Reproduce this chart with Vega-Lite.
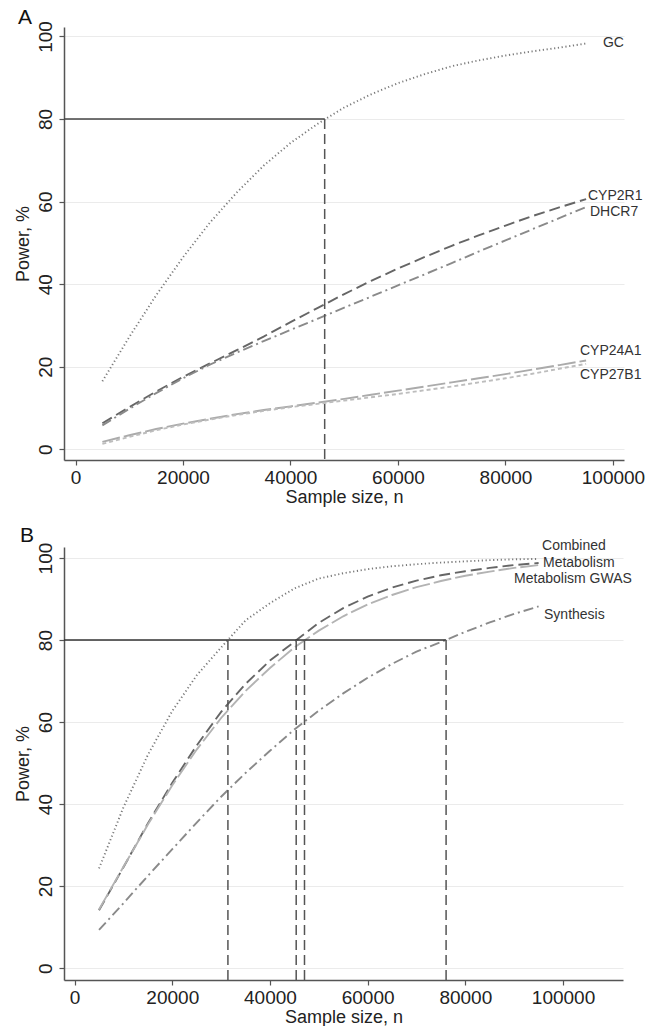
{
  "$schema": "https://vega.github.io/schema/vega-lite/v6.json",
  "background": "white",
  "padding": {"left": 14, "top": 6, "right": 0, "bottom": 0},
  "spacing": 19,
  "config": {
    "view": {"stroke": null},
    "font": "Liberation Sans",
    "axis": {
      "domainColor": "#555555",
      "domainWidth": 1.5,
      "tickColor": "#555555",
      "tickSize": 5,
      "tickWidth": 1.2,
      "labelFont": "Liberation Sans",
      "labelFontSize": 19,
      "labelColor": "#222222",
      "titleFont": "Liberation Sans",
      "titleFontSize": 18,
      "titleFontWeight": "normal",
      "titleColor": "#222222",
      "gridColor": "#ebebeb",
      "gridWidth": 1
    },
    "axisX": {"grid": false, "labelPadding": 3, "titlePadding": 1},
    "axisY": {"grid": true, "labelAngle": -90, "labelAlign": "center", "labelBaseline": "alphabetic", "labelPadding": 8, "titlePadding": 4}
  },
  "datasets": {
    "curves": [
      {"panel":"A","series":"GC","n":5000,"power":16.5},{"panel":"A","series":"GC","n":10000,"power":27.2},{"panel":"A","series":"GC","n":15000,"power":37.3},{"panel":"A","series":"GC","n":20000,"power":46.5},{"panel":"A","series":"GC","n":25000,"power":54.9},{"panel":"A","series":"GC","n":30000,"power":62.2},{"panel":"A","series":"GC","n":35000,"power":68.7},{"panel":"A","series":"GC","n":40000,"power":74.2},{"panel":"A","series":"GC","n":45000,"power":78.8},{"panel":"A","series":"GC","n":50000,"power":82.8},{"panel":"A","series":"GC","n":55000,"power":86.0},{"panel":"A","series":"GC","n":60000,"power":88.7},{"panel":"A","series":"GC","n":65000,"power":90.9},{"panel":"A","series":"GC","n":70000,"power":92.8},{"panel":"A","series":"GC","n":75000,"power":94.2},{"panel":"A","series":"GC","n":80000,"power":95.4},{"panel":"A","series":"GC","n":85000,"power":96.4},{"panel":"A","series":"GC","n":90000,"power":97.3},{"panel":"A","series":"GC","n":95000,"power":98.3},
      {"panel":"A","series":"CYP2R1","n":5000,"power":6.3},{"panel":"A","series":"CYP2R1","n":10000,"power":10.2},{"panel":"A","series":"CYP2R1","n":15000,"power":14.0},{"panel":"A","series":"CYP2R1","n":20000,"power":17.5},{"panel":"A","series":"CYP2R1","n":25000,"power":20.8},{"panel":"A","series":"CYP2R1","n":30000,"power":24.0},{"panel":"A","series":"CYP2R1","n":35000,"power":27.3},{"panel":"A","series":"CYP2R1","n":40000,"power":30.8},{"panel":"A","series":"CYP2R1","n":45000,"power":34.2},{"panel":"A","series":"CYP2R1","n":50000,"power":37.6},{"panel":"A","series":"CYP2R1","n":55000,"power":40.8},{"panel":"A","series":"CYP2R1","n":60000,"power":43.8},{"panel":"A","series":"CYP2R1","n":65000,"power":46.6},{"panel":"A","series":"CYP2R1","n":70000,"power":49.3},{"panel":"A","series":"CYP2R1","n":75000,"power":51.8},{"panel":"A","series":"CYP2R1","n":80000,"power":54.2},{"panel":"A","series":"CYP2R1","n":85000,"power":56.5},{"panel":"A","series":"CYP2R1","n":90000,"power":58.6},{"panel":"A","series":"CYP2R1","n":95000,"power":60.6},
      {"panel":"A","series":"DHCR7","n":5000,"power":5.8},{"panel":"A","series":"DHCR7","n":10000,"power":9.8},{"panel":"A","series":"DHCR7","n":15000,"power":13.6},{"panel":"A","series":"DHCR7","n":20000,"power":17.2},{"panel":"A","series":"DHCR7","n":25000,"power":20.5},{"panel":"A","series":"DHCR7","n":30000,"power":23.4},{"panel":"A","series":"DHCR7","n":35000,"power":26.2},{"panel":"A","series":"DHCR7","n":40000,"power":28.9},{"panel":"A","series":"DHCR7","n":45000,"power":31.6},{"panel":"A","series":"DHCR7","n":50000,"power":34.3},{"panel":"A","series":"DHCR7","n":55000,"power":37.0},{"panel":"A","series":"DHCR7","n":60000,"power":39.7},{"panel":"A","series":"DHCR7","n":65000,"power":42.4},{"panel":"A","series":"DHCR7","n":70000,"power":45.1},{"panel":"A","series":"DHCR7","n":75000,"power":47.9},{"panel":"A","series":"DHCR7","n":80000,"power":50.6},{"panel":"A","series":"DHCR7","n":85000,"power":53.3},{"panel":"A","series":"DHCR7","n":90000,"power":56.0},{"panel":"A","series":"DHCR7","n":95000,"power":58.7},
      {"panel":"A","series":"CYP24A1","n":5000,"power":1.8},{"panel":"A","series":"CYP24A1","n":10000,"power":3.4},{"panel":"A","series":"CYP24A1","n":15000,"power":4.9},{"panel":"A","series":"CYP24A1","n":20000,"power":6.2},{"panel":"A","series":"CYP24A1","n":25000,"power":7.4},{"panel":"A","series":"CYP24A1","n":30000,"power":8.5},{"panel":"A","series":"CYP24A1","n":35000,"power":9.5},{"panel":"A","series":"CYP24A1","n":40000,"power":10.4},{"panel":"A","series":"CYP24A1","n":45000,"power":11.3},{"panel":"A","series":"CYP24A1","n":50000,"power":12.2},{"panel":"A","series":"CYP24A1","n":55000,"power":13.2},{"panel":"A","series":"CYP24A1","n":60000,"power":14.2},{"panel":"A","series":"CYP24A1","n":65000,"power":15.2},{"panel":"A","series":"CYP24A1","n":70000,"power":16.2},{"panel":"A","series":"CYP24A1","n":75000,"power":17.2},{"panel":"A","series":"CYP24A1","n":80000,"power":18.2},{"panel":"A","series":"CYP24A1","n":85000,"power":19.3},{"panel":"A","series":"CYP24A1","n":90000,"power":20.4},{"panel":"A","series":"CYP24A1","n":95000,"power":21.5},
      {"panel":"A","series":"CYP27B1","n":5000,"power":1.3},{"panel":"A","series":"CYP27B1","n":10000,"power":3.0},{"panel":"A","series":"CYP27B1","n":15000,"power":4.6},{"panel":"A","series":"CYP27B1","n":20000,"power":6.0},{"panel":"A","series":"CYP27B1","n":25000,"power":7.2},{"panel":"A","series":"CYP27B1","n":30000,"power":8.3},{"panel":"A","series":"CYP27B1","n":35000,"power":9.3},{"panel":"A","series":"CYP27B1","n":40000,"power":10.2},{"panel":"A","series":"CYP27B1","n":45000,"power":11.0},{"panel":"A","series":"CYP27B1","n":50000,"power":11.8},{"panel":"A","series":"CYP27B1","n":55000,"power":12.6},{"panel":"A","series":"CYP27B1","n":60000,"power":13.4},{"panel":"A","series":"CYP27B1","n":65000,"power":14.3},{"panel":"A","series":"CYP27B1","n":70000,"power":15.2},{"panel":"A","series":"CYP27B1","n":75000,"power":16.2},{"panel":"A","series":"CYP27B1","n":80000,"power":17.2},{"panel":"A","series":"CYP27B1","n":85000,"power":18.3},{"panel":"A","series":"CYP27B1","n":90000,"power":19.5},{"panel":"A","series":"CYP27B1","n":95000,"power":20.7},
      {"panel":"B","series":"Combined","n":5000,"power":24.3},{"panel":"B","series":"Combined","n":10000,"power":39.2},{"panel":"B","series":"Combined","n":15000,"power":52.0},{"panel":"B","series":"Combined","n":20000,"power":62.7},{"panel":"B","series":"Combined","n":25000,"power":71.4},{"panel":"B","series":"Combined","n":30000,"power":78.2},{"panel":"B","series":"Combined","n":35000,"power":84.8},{"panel":"B","series":"Combined","n":40000,"power":89.0},{"panel":"B","series":"Combined","n":45000,"power":92.6},{"panel":"B","series":"Combined","n":50000,"power":95.0},{"panel":"B","series":"Combined","n":55000,"power":96.3},{"panel":"B","series":"Combined","n":60000,"power":97.3},{"panel":"B","series":"Combined","n":65000,"power":98.0},{"panel":"B","series":"Combined","n":70000,"power":98.5},{"panel":"B","series":"Combined","n":75000,"power":98.9},{"panel":"B","series":"Combined","n":80000,"power":99.2},{"panel":"B","series":"Combined","n":85000,"power":99.5},{"panel":"B","series":"Combined","n":90000,"power":99.7},{"panel":"B","series":"Combined","n":95000,"power":99.8},
      {"panel":"B","series":"Metabolism","n":5000,"power":14.1},{"panel":"B","series":"Metabolism","n":10000,"power":24.6},{"panel":"B","series":"Metabolism","n":15000,"power":35.3},{"panel":"B","series":"Metabolism","n":20000,"power":45.2},{"panel":"B","series":"Metabolism","n":25000,"power":54.3},{"panel":"B","series":"Metabolism","n":30000,"power":62.5},{"panel":"B","series":"Metabolism","n":35000,"power":69.3},{"panel":"B","series":"Metabolism","n":40000,"power":75.0},{"panel":"B","series":"Metabolism","n":45000,"power":79.6},{"panel":"B","series":"Metabolism","n":50000,"power":84.2},{"panel":"B","series":"Metabolism","n":55000,"power":87.8},{"panel":"B","series":"Metabolism","n":60000,"power":90.6},{"panel":"B","series":"Metabolism","n":65000,"power":92.8},{"panel":"B","series":"Metabolism","n":70000,"power":94.5},{"panel":"B","series":"Metabolism","n":75000,"power":95.8},{"panel":"B","series":"Metabolism","n":80000,"power":96.8},{"panel":"B","series":"Metabolism","n":85000,"power":97.6},{"panel":"B","series":"Metabolism","n":90000,"power":98.3},{"panel":"B","series":"Metabolism","n":95000,"power":98.8},
      {"panel":"B","series":"Metabolism GWAS","n":5000,"power":14.3},{"panel":"B","series":"Metabolism GWAS","n":10000,"power":24.7},{"panel":"B","series":"Metabolism GWAS","n":15000,"power":35.0},{"panel":"B","series":"Metabolism GWAS","n":20000,"power":44.6},{"panel":"B","series":"Metabolism GWAS","n":25000,"power":53.3},{"panel":"B","series":"Metabolism GWAS","n":30000,"power":61.0},{"panel":"B","series":"Metabolism GWAS","n":35000,"power":67.6},{"panel":"B","series":"Metabolism GWAS","n":40000,"power":73.2},{"panel":"B","series":"Metabolism GWAS","n":45000,"power":78.2},{"panel":"B","series":"Metabolism GWAS","n":50000,"power":82.3},{"panel":"B","series":"Metabolism GWAS","n":55000,"power":85.8},{"panel":"B","series":"Metabolism GWAS","n":60000,"power":88.7},{"panel":"B","series":"Metabolism GWAS","n":65000,"power":91.0},{"panel":"B","series":"Metabolism GWAS","n":70000,"power":92.9},{"panel":"B","series":"Metabolism GWAS","n":75000,"power":94.4},{"panel":"B","series":"Metabolism GWAS","n":80000,"power":95.7},{"panel":"B","series":"Metabolism GWAS","n":85000,"power":96.7},{"panel":"B","series":"Metabolism GWAS","n":90000,"power":97.6},{"panel":"B","series":"Metabolism GWAS","n":95000,"power":98.3},
      {"panel":"B","series":"Synthesis","n":5000,"power":9.3},{"panel":"B","series":"Synthesis","n":10000,"power":15.8},{"panel":"B","series":"Synthesis","n":15000,"power":22.5},{"panel":"B","series":"Synthesis","n":20000,"power":29.0},{"panel":"B","series":"Synthesis","n":25000,"power":35.5},{"panel":"B","series":"Synthesis","n":30000,"power":41.8},{"panel":"B","series":"Synthesis","n":35000,"power":47.6},{"panel":"B","series":"Synthesis","n":40000,"power":53.0},{"panel":"B","series":"Synthesis","n":45000,"power":58.2},{"panel":"B","series":"Synthesis","n":50000,"power":62.8},{"panel":"B","series":"Synthesis","n":55000,"power":67.0},{"panel":"B","series":"Synthesis","n":60000,"power":70.8},{"panel":"B","series":"Synthesis","n":65000,"power":74.2},{"panel":"B","series":"Synthesis","n":70000,"power":77.2},{"panel":"B","series":"Synthesis","n":75000,"power":79.5},{"panel":"B","series":"Synthesis","n":80000,"power":82.0},{"panel":"B","series":"Synthesis","n":85000,"power":84.3},{"panel":"B","series":"Synthesis","n":90000,"power":86.4},{"panel":"B","series":"Synthesis","n":95000,"power":88.2}
    ],
    "labels": [
      {"panel":"A","label":"GC","n":98140,"power":98.4},
      {"panel":"A","label":"CYP2R1","n":95350,"power":61.3},
      {"panel":"A","label":"DHCR7","n":95720,"power":57.5},
      {"panel":"A","label":"CYP24A1","n":93860,"power":23.8},
      {"panel":"A","label":"CYP27B1","n":93860,"power":18.0},
      {"panel":"B","label":"Combined","n":95700,"power":102.9},
      {"panel":"B","label":"Metabolism","n":95900,"power":98.9},
      {"panel":"B","label":"Metabolism GWAS","n":89980,"power":95.0},
      {"panel":"B","label":"Synthesis","n":96110,"power":86.0}
    ],
    "hline": [
      {"panel":"A","n":-2140,"n2":46360,"power":80},
      {"panel":"B","n":-2170,"n2":76060,"power":80}
    ],
    "cross": [
      {"panel":"A","n":46360,"power":80,"power2":-2.6},
      {"panel":"B","n":31390,"power":80,"power2":-2.9},
      {"panel":"B","n":45370,"power":80,"power2":-2.9},
      {"panel":"B","n":47070,"power":80,"power2":-2.9},
      {"panel":"B","n":76060,"power":80,"power2":-2.9}
    ]
  },
  "vconcat": [
    {
      "title": {"text": "A", "anchor": "start", "frame": "bounds", "fontSize": 21, "fontWeight": "normal", "baseline": "alphabetic", "offset": -24, "dx": 4, "color": "#111111"},
      "width": 560,
      "height": 433,
      "layer": [
        {
          "data": {"name": "curves"},
          "transform": [{"filter": "datum.panel === 'A'"}],
          "mark": {"type": "line", "strokeWidth": 1.9, "strokeCap": "butt"},
          "encoding": {
            "x": {"field": "n", "type": "quantitative", "scale": {"domain": [-2140, 102050], "nice": false, "zero": false}, "axis": {"values": [0, 20000, 40000, 60000, 80000, 100000], "format": "d", "title": "Sample size, n"}},
            "y": {"field": "power", "type": "quantitative", "scale": {"domain": [-2.6, 102.3], "nice": false, "zero": false}, "axis": {"values": [0, 20, 40, 60, 80, 100], "title": "Power, %"}},
            "color": {"field": "series", "type": "nominal", "legend": null, "scale": {"domain": ["GC","CYP2R1","DHCR7","CYP24A1","CYP27B1","Combined","Metabolism","Metabolism GWAS","Synthesis"], "range": ["#7a7a7a","#666666","#8a8a8a","#ababab","#bdbdbd","#7a7a7a","#666666","#b3b3b3","#8a8a8a"]}},
            "strokeDash": {"field": "series", "type": "nominal", "legend": null, "scale": {"domain": ["GC","CYP2R1","DHCR7","CYP24A1","CYP27B1","Combined","Metabolism","Metabolism GWAS","Synthesis"], "range": [[1.2,2.6],[11,5],[10,4,2,4],[18,4],[4,3],[1.2,2.6],[11,5],[18,4],[10,4,2,4]]}}
          }
        },
        {
          "data": {"name": "hline"},
          "transform": [{"filter": "datum.panel === 'A'"}],
          "mark": {"type": "rule", "color": "#444444", "strokeWidth": 1.5},
          "encoding": {
            "x": {"field": "n", "type": "quantitative"},
            "x2": {"field": "n2"},
            "y": {"field": "power", "type": "quantitative"}
          }
        },
        {
          "data": {"name": "cross"},
          "transform": [{"filter": "datum.panel === 'A'"}],
          "mark": {"type": "rule", "color": "#555555", "strokeWidth": 1.5, "strokeDash": [10, 5]},
          "encoding": {
            "x": {"field": "n", "type": "quantitative"},
            "y": {"field": "power", "type": "quantitative"},
            "y2": {"field": "power2"}
          }
        },
        {
          "data": {"name": "labels"},
          "transform": [{"filter": "datum.panel === 'A'"}],
          "mark": {"type": "text", "align": "left", "baseline": "middle", "fontSize": 14, "color": "#333333", "font": "Liberation Sans"},
          "encoding": {
            "x": {"field": "n", "type": "quantitative"},
            "y": {"field": "power", "type": "quantitative"},
            "text": {"field": "label", "type": "nominal"}
          }
        }
      ]
    },
    {
      "title": {"text": "B", "anchor": "start", "frame": "bounds", "fontSize": 21, "fontWeight": "normal", "baseline": "alphabetic", "offset": -24, "dx": 6, "color": "#111111"},
      "width": 559,
      "height": 433,
      "layer": [
        {
          "data": {"name": "curves"},
          "transform": [{"filter": "datum.panel === 'B'"}],
          "mark": {"type": "line", "strokeWidth": 1.9, "strokeCap": "butt"},
          "encoding": {
            "x": {"field": "n", "type": "quantitative", "scale": {"domain": [-2170, 112280], "nice": false, "zero": false}, "axis": {"values": [0, 20000, 40000, 60000, 80000, 100000], "format": "d", "title": "Sample size, n"}},
            "y": {"field": "power", "type": "quantitative", "scale": {"domain": [-2.9, 102.7], "nice": false, "zero": false}, "axis": {"values": [0, 20, 40, 60, 80, 100], "title": "Power, %"}},
            "color": {"field": "series", "type": "nominal", "legend": null, "scale": {"domain": ["GC","CYP2R1","DHCR7","CYP24A1","CYP27B1","Combined","Metabolism","Metabolism GWAS","Synthesis"], "range": ["#7a7a7a","#666666","#8a8a8a","#ababab","#bdbdbd","#7a7a7a","#666666","#b3b3b3","#8a8a8a"]}},
            "strokeDash": {"field": "series", "type": "nominal", "legend": null, "scale": {"domain": ["GC","CYP2R1","DHCR7","CYP24A1","CYP27B1","Combined","Metabolism","Metabolism GWAS","Synthesis"], "range": [[1.2,2.6],[11,5],[10,4,2,4],[18,4],[4,3],[1.2,2.6],[11,5],[18,4],[10,4,2,4]]}}
          }
        },
        {
          "data": {"name": "hline"},
          "transform": [{"filter": "datum.panel === 'B'"}],
          "mark": {"type": "rule", "color": "#333333", "strokeWidth": 1.5},
          "encoding": {
            "x": {"field": "n", "type": "quantitative"},
            "x2": {"field": "n2"},
            "y": {"field": "power", "type": "quantitative"}
          }
        },
        {
          "data": {"name": "cross"},
          "transform": [{"filter": "datum.panel === 'B'"}],
          "mark": {"type": "rule", "color": "#555555", "strokeWidth": 1.5, "strokeDash": [10, 5]},
          "encoding": {
            "x": {"field": "n", "type": "quantitative"},
            "y": {"field": "power", "type": "quantitative"},
            "y2": {"field": "power2"}
          }
        },
        {
          "data": {"name": "labels"},
          "transform": [{"filter": "datum.panel === 'B'"}],
          "mark": {"type": "text", "align": "left", "baseline": "middle", "fontSize": 14, "color": "#333333", "font": "Liberation Sans"},
          "encoding": {
            "x": {"field": "n", "type": "quantitative"},
            "y": {"field": "power", "type": "quantitative"},
            "text": {"field": "label", "type": "nominal"}
          }
        }
      ]
    }
  ]
}
